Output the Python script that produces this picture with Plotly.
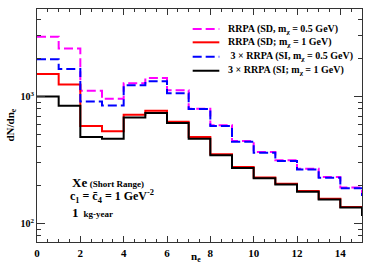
import plotly.graph_objects as go

# bin edges n_e = 0..15 (last value is the following bin, only visible as the drop at n_e = 15)
edges = list(range(0, 17))
sd_05 = [2944, 2370, 1104, 955, 1265, 1393, 1115, 800, 592, 446, 365, 314, 270, 232, 192, 167]
sd_1 = [1497, 1236, 585, 531, 716, 770, 631, 479, 350, 279, 230, 206, 180, 157, 135, 116]
si_05 = [1953, 1638, 910, 847, 1220, 1312, 1056, 795, 584, 440, 360, 310, 266, 229, 190, 165]
si_1 = [998, 845, 479, 465, 681, 740, 616, 465, 344, 274, 227, 203, 178, 155, 134, 115]

names = [
    "RRPA (SD, m<sub>χ</sub> = 0.5 GeV)",
    "RRPA (SD; m<sub>χ</sub> = 1 GeV)",
    " 3 × RRPA (SI, m<sub>χ</sub> = 0.5 GeV)",
    "3 × RRPA (SI; m<sub>χ</sub> = 1 GeV)",
]
x_ticks = [0, 2, 4, 6, 8, 10, 12, 14]
y_ticks = [100, 1000]
y_ticktext = ["10<sup>2</sup>", "10<sup>3</sup>"]

FONT = "Liberation Serif"
DASH = "9px,4px"

fig = go.Figure()
series = [
    (sd_05, "#FF00FF", DASH),
    (sd_1, "#FF0000", "solid"),
    (si_05, "#0000FF", DASH),
    (si_1, "#000000", "solid"),
]
for (vals, col, dash), nm in zip(series, names):
    fig.add_trace(go.Scatter(
        x=edges[:len(vals)], y=vals, mode="lines", line_shape="hv",
        line=dict(color=col, width=2, dash=dash), name=nm, showlegend=False,
        hoverinfo="skip",
    ))

# legend drawn as a compact key (paper coordinates)
legend_rows = [0.914, 0.857, 0.795, 0.735]
for (vals, col, dash), nm, ry in zip(series, names, legend_rows):
    fig.add_shape(type="line", xref="paper", yref="paper", x0=0.479, x1=0.561, y0=ry, y1=ry,
                  line=dict(color=col, width=2, dash=dash))
    fig.add_annotation(xref="paper", yref="paper", x=0.581, y=ry, xanchor="left", yanchor="middle",
                       showarrow=False, text=nm, font=dict(size=10))

minor_y = [v * 10 ** e for e in (1, 2, 3) for v in range(2, 10)]

fig.update_layout(
    width=374, height=270,
    margin=dict(l=37, r=12, t=9, b=28),
    paper_bgcolor="white", plot_bgcolor="white",
    font=dict(family=FONT, color="black", size=10, weight="bold"),
    showlegend=False,
    xaxis=dict(
        range=[0, 15], showgrid=False, zeroline=False, automargin=False,
        showline=True, linecolor="#333", linewidth=1, mirror="allticks",
        ticks="inside", ticklen=6, tickcolor="#333",
        tickmode="array", tickvals=x_ticks, ticklabelstandoff=1,
        tickfont=dict(family=FONT, size=11, weight="bold"),
        minor=dict(dtick=0.5, ticks="inside", ticklen=3, tickcolor="#333", showgrid=False),
    ),
    yaxis=dict(
        type="log", range=[1.8555, 3.686], showgrid=False, zeroline=False, automargin=False,
        showline=True, linecolor="#333", linewidth=1, mirror="allticks",
        ticks="inside", ticklen=8, tickcolor="#333",
        tickmode="array", tickvals=y_ticks, ticktext=y_ticktext,
        tickfont=dict(family=FONT, size=10, weight="bold"),
        minor=dict(tickmode="array", tickvals=minor_y, ticks="inside", ticklen=4,
                   tickcolor="#333", showgrid=False),
    ),
)

# axis titles
fig.add_annotation(xref="paper", yref="paper", x=0.49, y=-0.066, xanchor="center", yanchor="middle",
                   showarrow=False, text="n<sub>e</sub>", font=dict(size=11))
fig.add_annotation(xref="paper", yref="paper", x=-0.083, y=0.5, xanchor="center", yanchor="middle",
                   showarrow=False, textangle=-90, text="dN/dn<sub>e</sub>", font=dict(size=11))

# text block
fig.add_annotation(xref="paper", yref="paper", x=0.103, y=0.257, xanchor="left", yanchor="middle",
                   showarrow=False,
                   text="<span style='font-size:13px'>Xe</span> <span style='font-size:9px'>(Short Range)</span>")
fig.add_annotation(xref="paper", yref="paper", x=0.095, y=0.195, xanchor="left", yanchor="middle",
                   showarrow=False, font=dict(size=12),
                   text="c<sub>1</sub> = c̄<sub>4</sub> = 1 GeV<sup>-2</sup>")
fig.add_annotation(xref="paper", yref="paper", x=0.103, y=0.128, xanchor="left", yanchor="middle",
                   showarrow=False,
                   text="<span style='font-size:13px'>1</span>  <span style='font-size:9px'>kg-year</span>")

fig.write_html("out.html", config={"displayModeBar": False},
               post_script="document.body.style.margin='0';")
